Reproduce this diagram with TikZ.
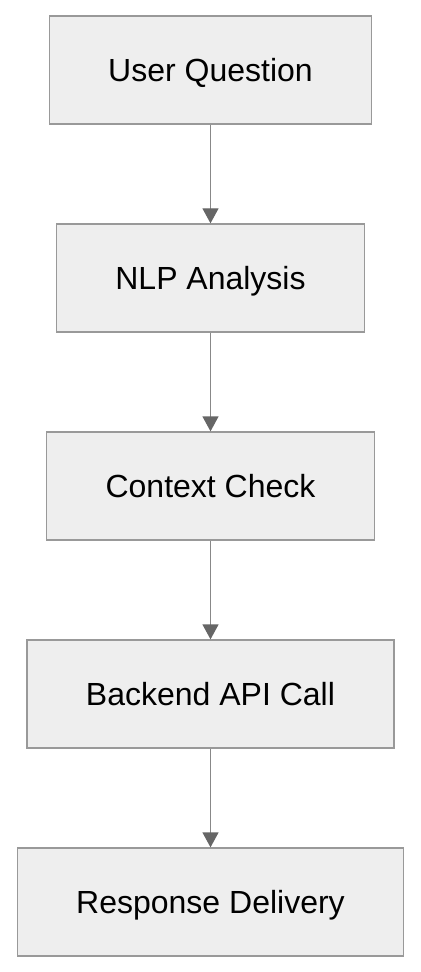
\documentclass[tikz,border=0pt]{standalone}
\usepackage{fontspec}
\setmainfont{Liberation Sans}
\usetikzlibrary{positioning, arrows.meta}
\definecolor{boxfill}{HTML}{EEEEEE}
\definecolor{boxline}{HTML}{999999}
\definecolor{arrowline}{HTML}{888888}
\definecolor{arrowhead}{HTML}{666666}
\begin{document}
\begin{tikzpicture}[node distance=49.35pt,
  box/.style={draw=boxline, fill=boxfill, line width=0.65pt, minimum height=54pt,
    inner xsep=29.5pt, text height=11.5pt, text depth=0pt,
    font=\fontsize{16}{19}\selectfont},
  flow/.style={draw=arrowline, line width=0.65pt,
    -{Triangle[width=8pt, length=7.5pt, color=arrowhead]}}]
  \useasboundingbox (0,0) rectangle (210pt,-486pt);

  \node[box] (question) at (105.25pt,-35pt) {User Question};
  \node[box, below=of question] (nlp) {NLP Analysis};
  \node[box, below=of nlp] (context) {Context Check};
  \node[box, below=of context] (backend) {Backend API Call};
  \node[box, below=of backend] (response) {Response Delivery};

  \draw[flow] (question) -- (nlp);
  \draw[flow] (nlp) -- (context);
  \draw[flow] (context) -- (backend);
  \draw[flow] (backend) -- (response);
\end{tikzpicture}
\end{document}
